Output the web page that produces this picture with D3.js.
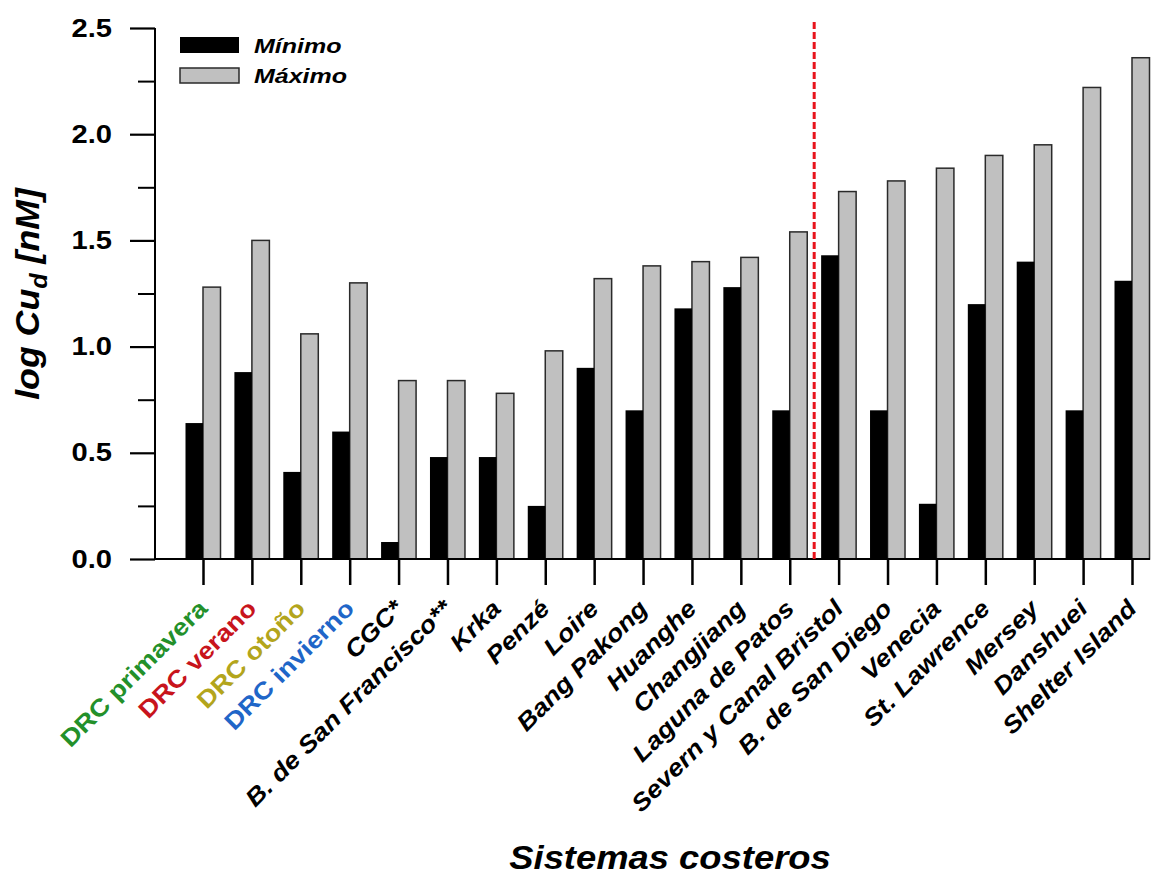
<!DOCTYPE html>
<html>
<head>
<meta charset="utf-8">
<script src="https://cdn.jsdelivr.net/npm/d3@7"></script>
<style>
  body { margin: 0; background: #fff; }
  text { font-family: "Liberation Sans", Arial, sans-serif; }
</style>
</head>
<body>
<div id="chart"></div>
<script>
// data
var sistemas = ["DRC primavera", "DRC verano", "DRC otoño", "DRC invierno", "CGC*",
  "B. de San Francisco**", "Krka", "Penzé", "Loire", "Bang Pakong", "Huanghe",
  "Changjiang", "Laguna de Patos", "Severn y Canal Bristol", "B. de San Diego",
  "Venecia", "St. Lawrence", "Mersey", "Danshuei", "Shelter Island"];
var minimo = [0.64, 0.88, 0.41, 0.60, 0.08, 0.48, 0.48, 0.25, 0.90, 0.70, 1.18,
  1.28, 0.70, 1.43, 0.70, 0.26, 1.20, 1.40, 0.70, 1.31];
var maximo = [1.28, 1.50, 1.06, 1.30, 0.84, 0.84, 0.78, 0.98, 1.32, 1.38, 1.40,
  1.42, 1.54, 1.73, 1.78, 1.84, 1.90, 1.95, 2.22, 2.36];
var labelColors = { "DRC primavera": "#23902a", "DRC verano": "#c8141c",
  "DRC otoño": "#b3a51c", "DRC invierno": "#1f66c8" };
var yMajor = [0, 0.5, 1.0, 1.5, 2.0, 2.5];
var yMinor = [0.25, 0.75, 1.25, 1.75, 2.25];

document.addEventListener('DOMContentLoaded', function() {
  var W = 1168, H = 879;
  var svg = d3.select("#chart").append("svg")
      .attr("width", W).attr("height", H);

  var x = d3.scalePoint().domain(sistemas).range([203, 1132]);
  var y = d3.scaleLinear().domain([0, 2.5]).range([559, 28]);
  var bw = 17.5;

  var data = sistemas.map(function(s, i) {
    return { name: s, min: minimo[i], max: maximo[i] };
  });

  // bars
  svg.append("g").selectAll("rect.max").data(data).enter().append("rect")
    .attr("class", "max")
    .attr("x", function(d) { return x(d.name); })
    .attr("width", bw)
    .attr("y", function(d) { return y(d.max); })
    .attr("height", function(d) { return y(0) - y(d.max); })
    .attr("fill", "#c0c0c0")
    .attr("stroke", "#2a2a2a")
    .attr("stroke-width", 1.5);

  svg.append("g").selectAll("rect.min").data(data).enter().append("rect")
    .attr("class", "min")
    .attr("x", function(d) { return x(d.name) - bw; })
    .attr("width", bw)
    .attr("y", function(d) { return y(d.min); })
    .attr("height", function(d) { return y(0) - y(d.min); })
    .attr("fill", "#000");

  // y axis (the original font is wider than Arial, so text gets stretched a bit)
  var yAxis = svg.append("g").attr("transform", "translate(155,0)")
    .call(d3.axisLeft(y).tickValues(yMajor).tickSize(25)
      .tickFormat(d3.format(".1f")));
  yAxis.select(".domain").attr("stroke-width", 2).attr("d", "M0," + y(2.5) + "V" + y(0));
  yAxis.selectAll(".tick line").attr("stroke-width", 2.2);
  yAxis.selectAll(".tick text")
    .attr("x", 0)
    .attr("transform", "translate(-43,0) scale(1.165,1)")
    .style("font-size", "25px").style("font-weight", "bold").attr("fill", "#000");

  svg.append("g").attr("transform", "translate(155,0)")
    .call(d3.axisLeft(y).tickValues(yMinor).tickSize(17).tickFormat(""))
    .call(function(g) { g.select(".domain").remove(); })
    .selectAll(".tick line").attr("stroke-width", 2);

  // x axis
  var xAxis = svg.append("g").attr("transform", "translate(0," + y(0) + ")")
    .call(d3.axisBottom(x).tickSize(26).tickFormat(""));
  xAxis.select(".domain").attr("stroke-width", 2).attr("d", "M155,0H1150");
  xAxis.selectAll(".tick line").attr("stroke-width", 2.5);

  svg.append("g").selectAll("text.xl").data(sistemas).enter().append("text")
    .attr("class", "xl")
    .attr("transform", function(d) {
      return "translate(" + (x(d) + 6) + "," + 610 + ") rotate(-45) scale(1.13,1)";
    })
    .attr("text-anchor", "end")
    .style("font-size", "24px")
    .style("font-weight", "bold")
    .style("font-style", function(d) { return labelColors[d] ? "normal" : "italic"; })
    .attr("fill", function(d) { return labelColors[d] || "#000"; })
    .text(function(d) { return d; });

  // red dashed separator between Laguna de Patos and Severn
  var xs = (x("Laguna de Patos") + x("Severn y Canal Bristol")) / 2;
  svg.append("line")
    .attr("x1", xs).attr("x2", xs)
    .attr("y1", 22).attr("y2", y(0))
    .attr("stroke", "#e8141c")
    .attr("stroke-width", 3)
    .attr("stroke-dasharray", "7,3");

  // legend
  var leg = svg.append("g");
  leg.append("rect").attr("x", 180).attr("y", 37).attr("width", 59).attr("height", 16)
    .attr("fill", "#000");
  leg.append("rect").attr("x", 180).attr("y", 68).attr("width", 59).attr("height", 15)
    .attr("fill", "#c0c0c0").attr("stroke", "#2a2a2a").attr("stroke-width", 1.5);
  leg.selectAll("text").data(["Mínimo", "Máximo"]).enter().append("text")
    .attr("transform", function(d, i) {
      return "translate(254," + (53 + i * 30) + ") scale(1.25,1)";
    })
    .style("font-size", "20px").style("font-weight", "bold").style("font-style", "italic")
    .text(function(d) { return d; });

  // axis titles
  var yt = svg.append("text")
    .attr("transform", "translate(39,294) rotate(-90) scale(1.05,1)")
    .attr("text-anchor", "middle")
    .style("font-size", "34px").style("font-weight", "bold").style("font-style", "italic");
  yt.append("tspan").text("log Cu");
  yt.append("tspan").attr("dy", 8).style("font-size", "24px").text("d");
  yt.append("tspan").attr("dy", -8).text(" [nM]");

  svg.append("text")
    .attr("transform", "translate(670,869) scale(1.07,1)")
    .attr("text-anchor", "middle")
    .style("font-size", "34px").style("font-weight", "bold").style("font-style", "italic")
    .text("Sistemas costeros");
});
</script>
</body>
</html>
